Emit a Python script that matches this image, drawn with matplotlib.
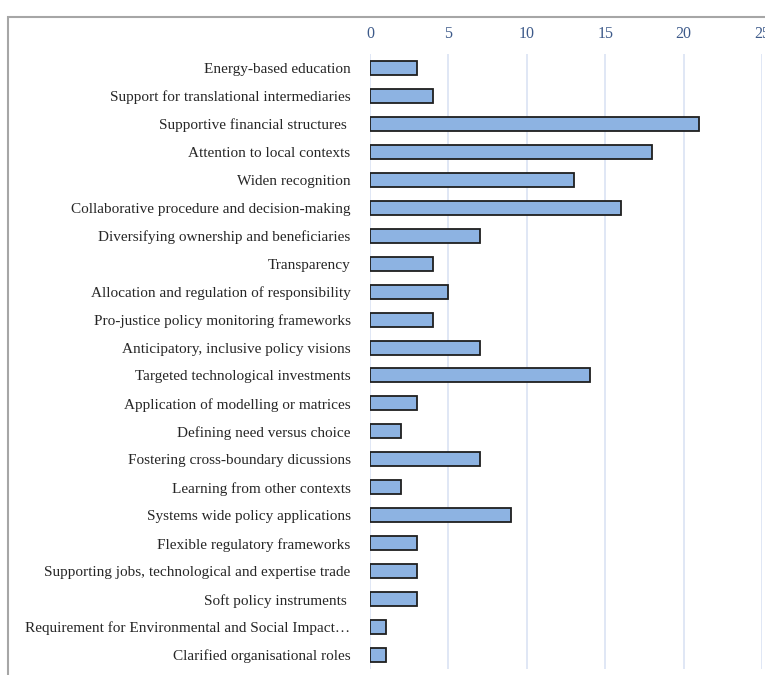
import matplotlib.pyplot as plt
from matplotlib.patches import Rectangle

categories = [
    'Energy-based education',
    'Support for translational intermediaries',
    'Supportive financial structures ',
    'Attention to local contexts',
    'Widen recognition',
    'Collaborative procedure and decision-making',
    'Diversifying ownership and beneficiaries',
    'Transparency',
    'Allocation and regulation of responsibility',
    'Pro-justice policy monitoring frameworks',
    'Anticipatory, inclusive policy visions',
    'Targeted technological investments',
    'Application of modelling or matrices',
    'Defining need versus choice',
    'Fostering cross-boundary dicussions',
    'Learning from other contexts',
    'Systems wide policy applications',
    'Flexible regulatory frameworks',
    'Supporting jobs, technological and expertise trade',
    'Soft policy instruments ',
    'Requirement for Environmental and Social Impact\u2026',
    'Clarified organisational roles',
]
counts = [3, 4, 21, 18, 13, 16, 7, 4, 5, 4, 7, 14, 3, 2, 7, 2, 9, 3, 3, 3, 1, 1]
xticks = [0, 5, 10, 15, 20, 25]

W, H = 765, 675
fig = plt.figure(figsize=(W / 100, H / 100), dpi=100)

# outer chart border (only left and top visible in the crop)
fig.patches.append(Rectangle((8 / W, -0.1), 1.2, 1.1 - 17 / H,
                             transform=fig.transFigure, fill=False,
                             edgecolor='#A6A6A6', linewidth=1.5))

ax = fig.add_axes([370 / W, 1 - 669 / H, (762 - 370) / W, (669 - 54) / H])
y = list(range(len(categories)))
ax.barh(y, counts, height=0.5, color='#8DB3E2', edgecolor='#1F1F1F',
        linewidth=1.3, zorder=3)

ax.set_xlim(0, 25)
ax.set_ylim(len(categories) - 0.5, -0.5)
ax.set_yticks(y)
ax.set_yticklabels(categories, family='Liberation Serif', fontsize=11,
                   color='#262626')
ax.set_xticks(xticks)
ax.set_xticklabels([str(t) for t in xticks], family='Liberation Serif',
                   fontsize=11.5, color='#3D5A8A')
ax.xaxis.tick_top()
ax.tick_params(axis='x', length=0, pad=9)
ax.tick_params(axis='y', length=0, pad=14)
ax.grid(axis='x', color='#DAE3F3', linewidth=1.2, zorder=0)
for s in ax.spines.values():
    s.set_visible(False)

fig.savefig('out.png', dpi=100)
